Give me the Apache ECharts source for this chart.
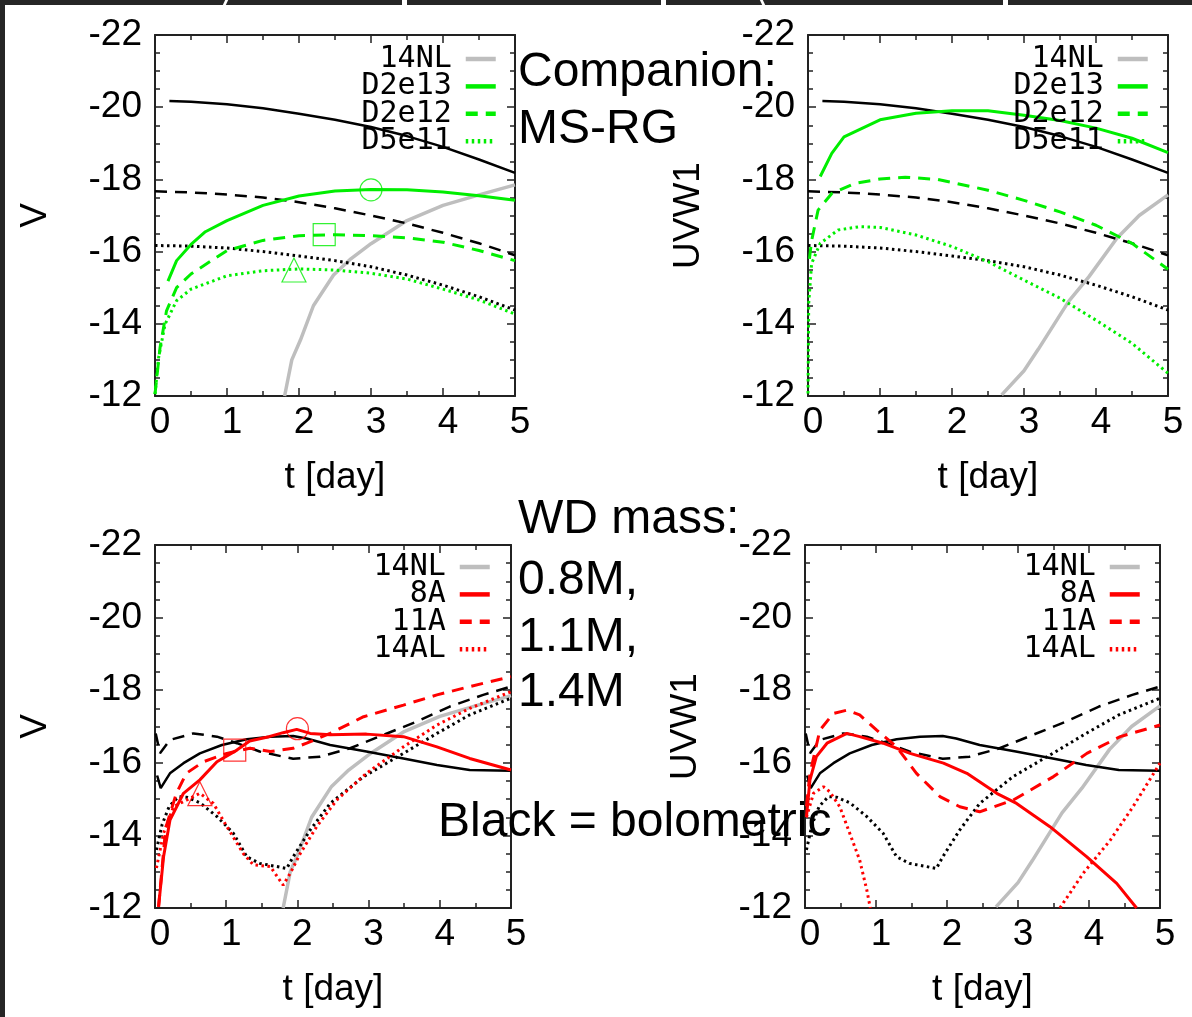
<!DOCTYPE html>
<html>
<head>
<meta charset="utf-8">
<script src="https://cdn.jsdelivr.net/npm/echarts@6/dist/echarts.min.js"></script>
<style>
  html, body { margin: 0; padding: 0; background: #fff; }
  #chart { width: 1192px; height: 1017px; position: absolute; left: 0; top: 0; }
  .frame { position: absolute; background: #262626; z-index: 5; }
  .gap { position: absolute; background: #fff; z-index: 6; }
</style>
</head>
<body>
<div id="chart"></div>
<div class="frame" style="left:0;top:0;width:1192px;height:5px"></div>
<div class="frame" style="left:0;top:0;width:5px;height:1017px"></div>
<div class="gap" style="left:224px;top:0;width:3px;height:5px;transform:skewX(-25deg)"></div>
<div class="gap" style="left:402px;top:0;width:5px;height:5px"></div>
<div class="gap" style="left:661px;top:0;width:5px;height:5px"></div>
<div class="gap" style="left:761px;top:0;width:3px;height:5px;transform:skewX(25deg)"></div>
<div class="gap" style="left:1003px;top:0;width:5px;height:5px"></div>
<script>
// ---------- data (t [day], magnitude) ----------
const tickLabelsX = [0, 1, 2, 3, 4, 5];
const tickLabelsY = [-22, -20, -18, -16, -14, -12];

// Top row: companion models (bolometric in black, same in both panels)
const bolSolidTop  = [[0.2,-20.17],[0.5,-20.15],[1,-20.08],[1.5,-19.97],[2,-19.82],[2.5,-19.65],[3,-19.45],[3.5,-19.2],[4,-18.9],[4.5,-18.55],[5,-18.18]];
const bolDashedTop = [[0,-17.67],[0.5,-17.64],[1,-17.58],[1.5,-17.5],[2,-17.37],[2.5,-17.2],[3,-17.0],[3.5,-16.78],[4,-16.52],[4.5,-16.23],[5,-15.9]];
const bolDottedTop = [[0,-16.17],[0.5,-16.15],[1,-16.1],[1.5,-16.0],[2,-15.88],[2.5,-15.75],[3,-15.58],[3.5,-15.35],[4,-15.07],[4.5,-14.75],[5,-14.38]];

// 14NL (grey) in V and UVW1
const nl14V = [[1.8,-12.0],[1.9,-13.0],[2.02,-13.55],[2.2,-14.5],[2.48,-15.35],[2.72,-15.8],[3.0,-16.22],[3.5,-16.86],[4.0,-17.28],[4.5,-17.57],[5,-17.85]];
const nl14U = [[2.69,-12.03],[3.0,-12.7],[3.2,-13.3],[3.62,-14.62],[3.9,-15.3],[4.29,-16.37],[4.6,-17.0],[5,-17.57]];

// Green: D2e13, D2e12, D5e11
const d2e13V = [[0.18,-15.18],[0.3,-15.75],[0.5,-16.2],[0.7,-16.55],[1,-16.86],[1.5,-17.28],[2,-17.54],[2.5,-17.68],[3,-17.72],[3.5,-17.71],[4,-17.65],[4.5,-17.55],[5,-17.42]];
const d2e12V = [[0,-12.05],[0.07,-13.34],[0.16,-14.36],[0.3,-15.0],[0.5,-15.38],[1,-16.03],[1.5,-16.31],[2,-16.44],[2.5,-16.47],[3,-16.44],[3.5,-16.38],[4,-16.26],[4.5,-16.03],[5,-15.75]];
const d5e11V = [[0,-12.05],[0.05,-13.06],[0.14,-13.99],[0.3,-14.64],[0.5,-14.96],[1,-15.33],[1.5,-15.47],[2,-15.52],[2.5,-15.49],[3,-15.4],[3.5,-15.24],[4,-14.96],[4.5,-14.66],[5,-14.27]];
const d2e13U = [[0.17,-18.08],[0.33,-18.72],[0.5,-19.18],[1,-19.65],[1.5,-19.83],[2,-19.9],[2.5,-19.9],[3,-19.78],[3.5,-19.63],[4,-19.42],[4.5,-19.14],[5,-18.74]];
const d2e12U = [[0.02,-15.8],[0.05,-16.3],[0.14,-17.15],[0.33,-17.61],[0.65,-17.89],[1,-18.01],[1.35,-18.06],[1.8,-18.0],[2.5,-17.7],[3,-17.42],[3.5,-17.1],[4,-16.73],[4.5,-16.23],[5,-15.51]];
const d5e11U = [[0,-12.07],[0.01,-14.57],[0.05,-15.67],[0.17,-16.23],[0.42,-16.6],[0.72,-16.69],[1,-16.67],[1.5,-16.46],[2,-16.14],[2.5,-15.72],[3,-15.21],[3.5,-14.71],[4,-14.1],[4.5,-13.46],[5,-12.63]];

// peak markers, top-left panel
const peakCircleTop   = [[3.0,-17.71]];
const peakSquareTop   = [[2.35,-16.47]];
const peakTriangleTop = [[1.93,-15.49]];

// Bottom row: WD mass models (bolometric in black, same in both panels)
const bolSolidBot  = [[0.03,-15.65],[0.08,-15.3],[0.21,-15.71],[0.4,-15.99],[0.63,-16.26],[0.94,-16.49],[1.29,-16.65],[1.62,-16.72],[1.94,-16.74],[2.13,-16.67],[2.46,-16.49],[2.97,-16.31],[3.49,-16.12],[3.96,-15.94],[4.42,-15.8],[5,-15.78]];
const bolDashedBot = [[0.01,-16.81],[0.07,-16.26],[0.21,-16.63],[0.54,-16.81],[0.87,-16.72],[1.15,-16.54],[1.47,-16.31],[1.94,-16.11],[2.32,-16.17],[2.74,-16.4],[3.21,-16.77],[3.67,-17.13],[4.14,-17.55],[4.61,-17.87],[5,-18.1]];
const bolDottedBot = [[0.02,-13.6],[0.1,-14.3],[0.2,-14.8],[0.33,-15.07],[0.45,-15.05],[0.63,-14.9],[0.87,-14.52],[1.1,-14.06],[1.29,-13.41],[1.47,-13.23],[1.85,-13.09],[1.94,-13.41],[2.18,-14.15],[2.46,-14.88],[2.93,-15.62],[3.49,-16.26],[3.96,-16.81],[4.42,-17.32],[5,-17.78]];

// Red: 8A, 11A, 14AL
const a8V   = [[0.05,-12.03],[0.12,-13.41],[0.21,-14.42],[0.4,-15.16],[0.63,-15.53],[0.87,-16.03],[1.15,-16.35],[1.33,-16.6],[1.6,-16.72],[1.8,-16.83],[1.99,-16.92],[2.18,-16.81],[2.46,-16.77],[2.97,-16.79],[3.49,-16.72],[3.96,-16.44],[4.42,-16.12],[5,-15.8]];
const a11V  = [[0.05,-12.03],[0.15,-14.2],[0.3,-15.16],[0.44,-15.71],[0.68,-16.03],[1.01,-16.26],[1.33,-16.4],[1.62,-16.31],[1.94,-16.4],[2.13,-16.54],[2.46,-16.81],[2.93,-17.27],[3.49,-17.59],[3.96,-17.87],[4.42,-18.1],[5,-18.37]];
const al14V = [[0.02,-13.1],[0.12,-14.06],[0.26,-14.79],[0.44,-14.97],[0.63,-15.16],[0.82,-14.88],[1.01,-14.24],[1.24,-13.5],[1.38,-13.19],[1.62,-13.14],[1.8,-12.63],[1.9,-12.96],[2.04,-13.5],[2.27,-14.24],[2.55,-14.97],[2.97,-15.71],[3.49,-16.44],[3.96,-17.04],[4.42,-17.5],[5,-17.96]];
const a8U   = [[0.02,-14.5],[0.07,-15.53],[0.16,-16.17],[0.31,-16.54],[0.59,-16.81],[0.77,-16.72],[1.1,-16.54],[1.48,-16.26],[1.95,-15.99],[2.28,-15.71],[2.7,-15.16],[2.98,-14.88],[3.45,-14.24],[3.97,-13.41],[4.39,-12.68],[4.67,-12.0]];
const a11U  = [[0.02,-14.8],[0.07,-15.71],[0.21,-16.9],[0.4,-17.36],[0.59,-17.45],[0.77,-17.32],[1.01,-16.9],[1.29,-16.44],[1.57,-15.71],[1.9,-15.07],[2.18,-14.79],[2.46,-14.65],[2.93,-14.97],[3.5,-15.62],[3.97,-16.26],[4.44,-16.72],[5,-17.04]];
const al14U = [[0.02,-14.5],[0.12,-15.16],[0.26,-15.34],[0.35,-15.2],[0.49,-14.79],[0.63,-14.06],[0.77,-13.32],[0.87,-12.5],[0.92,-12.0],[2.2,'-'],[3.59,-12.0],[3.92,-12.96],[4.3,-13.87],[4.62,-14.79],[5,-15.99]];

// peak markers, bottom-left panel
const peakCircleBot   = [[2.0,-16.94]];
const peakSquareBot   = [[1.12,-16.35]];
const peakTriangleBot = [[0.63,-15.15]];

const legendTop = ['14NL', 'D2e13', 'D2e12', 'D5e11'];
const legendBot = ['14NL', '8A', '11A', '14AL'];
const yNames = ['V', 'UVW1', 'V', 'UVW1'];
const notes = [
  { text: 'Companion:', x: 518, y: 70 },
  { text: 'MS-RG', x: 518, y: 127 },
  { text: 'WD mass:', x: 518, y: 517 },
  { text: '0.8M,', x: 518, y: 578 },
  { text: '1.1M,', x: 518, y: 635 },
  { text: '1.4M', x: 518, y: 690 },
  { text: 'Black = bolometric', x: 438, y: 820 }
];

// ---------- styling ----------
const GREEN = '#00ee00', RED = '#ff0000', GREY = '#bebebe', BLACK = '#000000';
const SANS = '"Liberation Sans", Arial, sans-serif';
const MONO = '"DejaVu Sans Mono", monospace';
const DASH = [12, 8], DOT = [2.5, 3.5];

const grids = [
  { left: 155, top: 35, width: 360, height: 361 },
  { left: 808, top: 35, width: 360, height: 361 },
  { left: 155, top: 545, width: 356, height: 363 },
  { left: 805, top: 545, width: 355, height: 363 }
];

const AXC = '#222';
const xAxes = [], yAxes = [];
grids.forEach((g, i) => {
  xAxes.push({
    type: 'value', gridIndex: i, position: 'bottom', min: 0, max: 5, interval: 1,
    name: 't [day]', nameLocation: 'middle', nameGap: 63,
    nameTextStyle: { fontFamily: SANS, fontSize: 37, color: '#000' },
    axisLine: { show: true, onZero: false, lineStyle: { color: AXC, width: 2 } },
    axisTick: { show: true, inside: true, length: 8, lineStyle: { color: AXC, width: 1.5 } },
    minorTick: { show: true, splitNumber: 2, length: 5, lineStyle: { color: AXC, width: 1.5 } },
    splitLine: { show: false },
    axisLabel: { fontFamily: SANS, fontSize: 37, color: '#000', margin: 8, padding: [0, 0, 0, 10],
                 formatter: v => tickLabelsX.includes(v) ? String(v) : '' }
  });
  xAxes.push({
    type: 'value', gridIndex: i, position: 'top', min: 0, max: 5, interval: 1,
    axisLine: { show: true, onZero: false, lineStyle: { color: AXC, width: 2 } },
    axisTick: { show: true, inside: true, length: 8, lineStyle: { color: AXC, width: 1.5 } },
    minorTick: { show: true, splitNumber: 2, length: 5, lineStyle: { color: AXC, width: 1.5 } },
    splitLine: { show: false }, axisLabel: { show: false }
  });
  yAxes.push({
    type: 'value', gridIndex: i, position: 'left', inverse: true, min: -22, max: -12, interval: 2,
    name: yNames[i], nameLocation: 'middle', nameGap: 101, nameRotate: 90,
    nameTextStyle: { fontFamily: SANS, fontSize: 37, color: '#000' },
    axisLine: { show: true, onZero: false, lineStyle: { color: AXC, width: 2 } },
    axisTick: { show: true, inside: true, length: 8, lineStyle: { color: AXC, width: 1.5 } },
    minorTick: { show: true, splitNumber: 4, length: 5, lineStyle: { color: AXC, width: 1.5 } },
    splitLine: { show: false },
    axisLabel: { fontFamily: SANS, fontSize: 37, color: '#000', margin: 13,
                 formatter: v => tickLabelsY.includes(v) ? String(v) : '' }
  });
  yAxes.push({
    type: 'value', gridIndex: i, position: 'right', inverse: true, min: -22, max: -12, interval: 2,
    axisLine: { show: true, onZero: false, lineStyle: { color: AXC, width: 2 } },
    axisTick: { show: true, inside: true, length: 8, lineStyle: { color: AXC, width: 1.5 } },
    minorTick: { show: true, splitNumber: 4, length: 5, lineStyle: { color: AXC, width: 1.5 } },
    splitLine: { show: false }, axisLabel: { show: false }
  });
});

function line(name, data, panel, color, width, type, z) {
  return {
    type: 'line', name: name, data: data, xAxisIndex: panel * 2, yAxisIndex: panel * 2,
    showSymbol: false, symbol: 'none', smooth: false, clip: true, silent: true,
    lineStyle: { color: color, width: width, type: type },
    itemStyle: { color: color }, z: z || 2, animation: false
  };
}
function marker(name, data, panel, symbol, color) {
  return {
    type: 'scatter', name: name, data: data, xAxisIndex: panel * 2, yAxisIndex: panel * 2,
    symbol: symbol, symbolSize: symbol === 'triangle' ? 24 : 22, silent: true,
    itemStyle: { color: 'rgba(0,0,0,0)', borderColor: color, borderWidth: 1.2 }, z: 5, animation: false
  };
}

const series = [];
// panel 0: V companion
series.push(line('14NL', nl14V, 0, GREY, 3.5, 'solid', 1));
series.push(line('bol-s-0', bolSolidTop, 0, BLACK, 2.5, 'solid'));
series.push(line('bol-d-0', bolDashedTop, 0, BLACK, 2.5, DASH));
series.push(line('bol-o-0', bolDottedTop, 0, BLACK, 3, DOT));
series.push(line('D2e13', d2e13V, 0, GREEN, 3, 'solid', 3));
series.push(line('D2e12', d2e12V, 0, GREEN, 3, DASH, 3));
series.push(line('D5e11', d5e11V, 0, GREEN, 3, DOT, 3));
series.push(marker('pk-c-0', peakCircleTop, 0, 'circle', GREEN));
series.push(marker('pk-s-0', peakSquareTop, 0, 'rect', GREEN));
series.push(marker('pk-t-0', peakTriangleTop, 0, 'triangle', GREEN));
// panel 1: UVW1 companion
series.push(line('14NL', nl14U, 1, GREY, 3.5, 'solid', 1));
series.push(line('bol-s-1', bolSolidTop, 1, BLACK, 2.5, 'solid'));
series.push(line('bol-d-1', bolDashedTop, 1, BLACK, 2.5, DASH));
series.push(line('bol-o-1', bolDottedTop, 1, BLACK, 3, DOT));
series.push(line('D2e13', d2e13U, 1, GREEN, 3, 'solid', 3));
series.push(line('D2e12', d2e12U, 1, GREEN, 3, DASH, 3));
series.push(line('D5e11', d5e11U, 1, GREEN, 3, DOT, 3));
// panel 2: V WD mass
series.push(line('14NL', nl14V, 2, GREY, 3.5, 'solid', 1));
series.push(line('bol-s-2', bolSolidBot, 2, BLACK, 2.5, 'solid'));
series.push(line('bol-d-2', bolDashedBot, 2, BLACK, 2.5, DASH));
series.push(line('bol-o-2', bolDottedBot, 2, BLACK, 3, DOT));
series.push(line('8A', a8V, 2, RED, 3, 'solid', 3));
series.push(line('11A', a11V, 2, RED, 3, DASH, 3));
series.push(line('14AL', al14V, 2, RED, 3, DOT, 3));
series.push(marker('pk-c-2', peakCircleBot, 2, 'circle', RED));
series.push(marker('pk-s-2', peakSquareBot, 2, 'rect', RED));
series.push(marker('pk-t-2', peakTriangleBot, 2, 'triangle', RED));
// panel 3: UVW1 WD mass
series.push(line('14NL', nl14U, 3, GREY, 3.5, 'solid', 1));
series.push(line('bol-s-3', bolSolidBot, 3, BLACK, 2.5, 'solid'));
series.push(line('bol-d-3', bolDashedBot, 3, BLACK, 2.5, DASH));
series.push(line('bol-o-3', bolDottedBot, 3, BLACK, 3, DOT));
series.push(line('8A', a8U, 3, RED, 3, 'solid', 3));
series.push(line('11A', a11U, 3, RED, 3, DASH, 3));
series.push(line('14AL', al14U, 3, RED, 3, DOT, 3));

function legend(names, right, top) {
  return {
    data: names, orient: 'vertical', align: 'right', right: right, top: top,
    padding: 0, itemGap: -2.6, itemWidth: 30, itemHeight: 6, selectedMode: false,
    lineStyle: { width: 4.5 },
    itemStyle: { color: 'rgba(0,0,0,0)', borderWidth: 0, opacity: 0 },
    textStyle: { fontFamily: MONO, fontSize: 30, color: '#000', padding: [0, 9, 0, 0] }
  };
}

const graphic = notes.map(n => ({
  type: 'text', left: n.x, top: n.y - 21, z: 100, silent: true,
  style: { text: n.text, font: '48px ' + SANS, fill: '#000' }
}));

const chart = echarts.init(document.getElementById('chart'), null, { renderer: 'canvas' });
chart.setOption({
  animation: false,
  backgroundColor: '#ffffff',
  grid: grids,
  xAxis: xAxes,
  yAxis: yAxes,
  legend: [
    legend(legendTop, 1192 - 498, 44),
    legend(legendTop, 1192 - 1150, 44),
    legend(legendBot, 1192 - 492, 552),
    legend(legendBot, 1192 - 1142, 552)
  ],
  graphic: graphic,
  series: series
});
</script>
</body>
</html>
